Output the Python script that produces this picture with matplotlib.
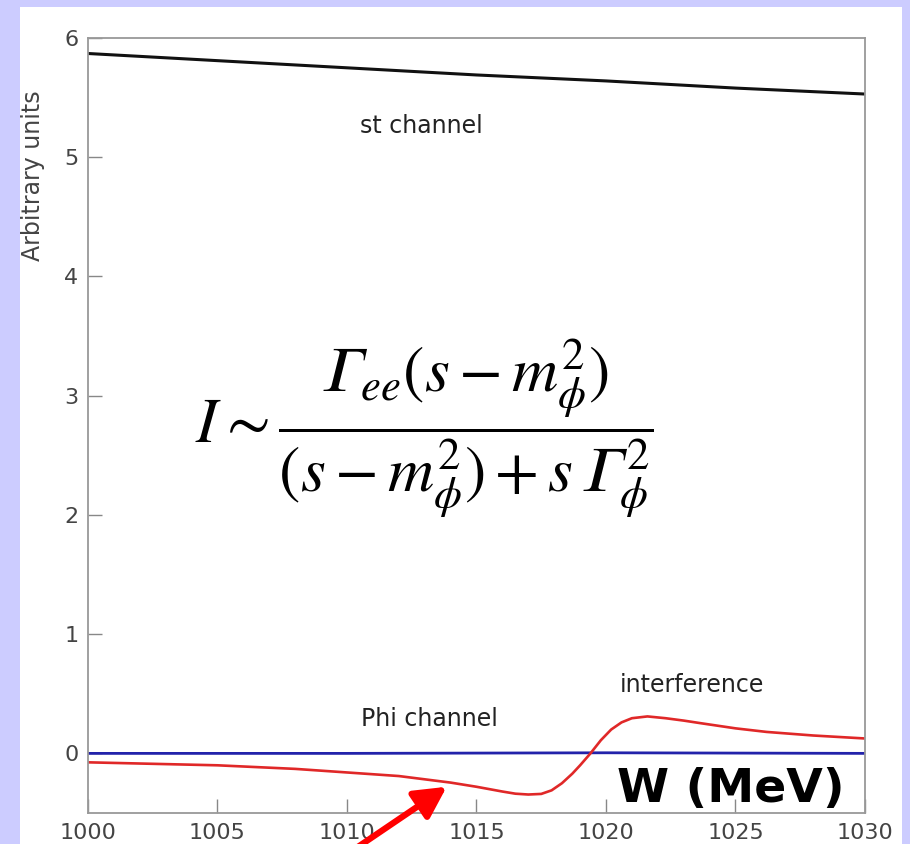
import numpy as np
import matplotlib
matplotlib.use("Agg")
import matplotlib.pyplot as plt
from matplotlib.patches import Rectangle

plt.rcParams['mathtext.fontset'] = 'stix'
plt.rcParams['font.family'] = ['DejaVu Sans']

# st channel (black), Phi channel (blue), interference (red)
w_st = [1000, 1005, 1010, 1015, 1020, 1025, 1030]
y_st = [5.87, 5.81, 5.75, 5.69, 5.64, 5.58, 5.53]

w_phi = [1000, 1010, 1020, 1030]
y_phi = [0.0, 0.0, 0.005, 0.0]

w_int = [1000, 1005, 1008, 1010, 1012, 1014, 1015, 1016, 1016.5, 1017.0, 1017.5,
         1017.9, 1018.3, 1018.7, 1019.0, 1019.4, 1019.8, 1020.2, 1020.6, 1021.0,
         1021.6, 1022.3, 1023.0, 1023.6, 1025, 1026.2, 1028, 1030]
y_int = [-0.075, -0.10, -0.13, -0.16, -0.19, -0.245, -0.28, -0.32, -0.338, -0.345, -0.34,
         -0.31, -0.25, -0.17, -0.10, 0.0, 0.11, 0.20, 0.26, 0.295,
         0.31, 0.295, 0.275, 0.255, 0.21, 0.18, 0.15, 0.125]

x_ticks = [1000, 1005, 1010, 1015, 1020, 1025, 1030]
y_ticks = [0, 1, 2, 3, 4, 5, 6]

grey = '#444444'

fig = plt.figure(figsize=(9.10, 8.44), dpi=100)
fig.patch.set_facecolor('#ccccff')
fig.patches.append(Rectangle((20 / 910, 0), 882 / 910, 837 / 844, transform=fig.transFigure,
                             facecolor='white', edgecolor='none', zorder=-10))

ax = fig.add_axes([88 / 910, 31 / 844, 777 / 910, 775 / 844])
ax.set_facecolor('white')

ax.plot(w_st, y_st, color='#111111', lw=2.2)
ax.plot(w_phi, y_phi, color='#2222aa', lw=2)
ax.plot(w_int, y_int, color='#e02828', lw=1.9)

ax.set_xlim(1000, 1030)
ax.set_ylim(-0.5, 6)
ax.set_xticks(x_ticks)
ax.set_yticks(y_ticks)
ax.tick_params(direction='in', length=10, width=1, colors='#888888', labelcolor=grey,
               labelsize=16, pad=7)
for sp in ax.spines.values():
    sp.set_color('#999999')
    sp.set_linewidth(1.3)

ax.text(1012.86, 5.26, 'st channel', fontsize=17, color='#222222', ha='center', va='center')
ax.text(1013.2, 0.285, 'Phi channel', fontsize=17, color='#222222', ha='center', va='center')
ax.text(1023.3, 0.57, 'interference', fontsize=17, color='#222222', ha='center', va='center')

G = '\U0001D6E4'  # math italic capital gamma
formula = (r'$I\sim\dfrac{' + G + r'_{ee}(s-m_{\phi}^{2})}{(s-m_{\phi}^{2})+s\,'
           + G + r'_{\phi}^{2}}$')
ax.text(1013.0, 2.73, formula, fontsize=46, color='black', ha='center', va='center')

ax.text(1024.8, -0.30, 'W (MeV)', fontsize=34, fontweight='bold', color='black',
        ha='center', va='center')

fig.text(33 / 910, 1 - 176 / 844, 'Arbitrary units', rotation=90, fontsize=17,
         color=grey, ha='center', va='center')

# red arrow pointing at the dip
ax.annotate('', xy=(1013.85, -0.28), xytext=(1009.5, -0.92),
            arrowprops=dict(arrowstyle='-|>,head_length=1.9,head_width=1.0',
                            color='#ff0000', lw=4.5, shrinkA=0, shrinkB=0),
            annotation_clip=False)

fig.savefig('out.png', dpi=100, facecolor=fig.get_facecolor())
